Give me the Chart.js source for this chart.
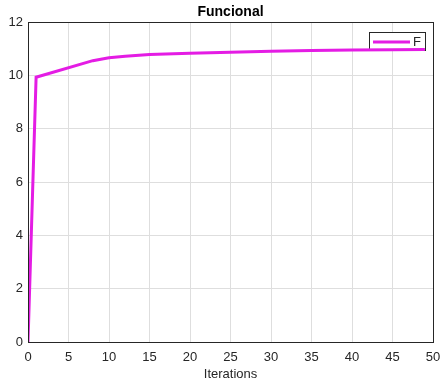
<!DOCTYPE html>
<html>
<head>
<meta charset="utf-8">
<script src="https://cdn.jsdelivr.net/npm/chart.js@4"></script>
<style>
  html, body { margin: 0; padding: 0; background: #fff; }
  #wrap { width: 442px; height: 385px; }
</style>
</head>
<body>
<div id="wrap"><canvas id="grafico" width="442" height="385"></canvas></div>
<script>
// valores
const iteracoes = [0, 1, 8, 10, 12, 15, 20, 25, 30, 35, 40, 45, 49];
const funcional = [0, 9.93, 10.55, 10.66, 10.72, 10.78, 10.83, 10.87, 10.9, 10.93, 10.95, 10.96, 10.97];
const xTicks = [0, 5, 10, 15, 20, 25, 30, 35, 40, 45, 50];
const yTicks = [0, 2, 4, 6, 8, 10, 12];
const titulo = 'Funcional';
const rotuloX = 'Iterations';
const legenda = 'F';

const cor = '#e41ce4';
const fonte = 'Arial, "Liberation Sans", Helvetica, sans-serif';

const moldura = {
  id: 'moldura',
  beforeDatasetsDraw(chart) {
    const { ctx } = chart;
    // legenda (a linha passa por cima, como na figura)
    const lx = 369, ly = 32, lw = 56, lh = 18;
    ctx.save();
    ctx.fillStyle = '#fff';
    ctx.fillRect(lx, ly, lw, lh);
    ctx.strokeStyle = '#262626';
    ctx.lineWidth = 1;
    ctx.strokeRect(lx + 0.5, ly + 0.5, lw, lh);
    ctx.strokeStyle = cor;
    ctx.lineWidth = 3;
    ctx.beginPath();
    ctx.moveTo(lx + 4, ly + 10);
    ctx.lineTo(lx + 41, ly + 10);
    ctx.stroke();
    ctx.fillStyle = '#262626';
    ctx.font = '13px ' + fonte;
    ctx.textAlign = 'left';
    ctx.textBaseline = 'middle';
    ctx.fillText(legenda, lx + 44, ly + 10);
    ctx.restore();
  },
  afterDraw(chart) {
    const { ctx, chartArea: a } = chart;
    ctx.save();
    ctx.strokeStyle = '#262626';
    ctx.lineWidth = 1;
    ctx.strokeRect(a.left + 0.5, a.top + 0.5, a.right - a.left, a.bottom - a.top);

    // titulo centrado sobre a area do grafico
    ctx.fillStyle = '#000';
    ctx.font = 'bold 14px ' + fonte;
    ctx.textAlign = 'center';
    ctx.textBaseline = 'middle';
    ctx.fillText(titulo, (a.left + a.right) / 2, 12);
    ctx.restore();
  }
};

new Chart(document.getElementById('grafico').getContext('2d'), {
  type: 'line',
  data: {
    datasets: [{
      label: legenda,
      data: iteracoes.map((x, i) => ({ x: x, y: funcional[i] })),
      borderColor: cor,
      borderWidth: 3,
      pointRadius: 0,
      tension: 0,
      fill: false
    }]
  },
  options: {
    responsive: false,
    animation: false,
    layout: { padding: { left: 0, right: 9, top: 22, bottom: 0 } },
    plugins: {
      legend: { display: false },
      tooltip: { enabled: false }
    },
    scales: {
      x: {
        type: 'linear',
        min: 0,
        max: 50,
        afterBuildTicks(axis) { axis.ticks = xTicks.map(v => ({ value: v })); },
        afterFit(axis) { axis.height = 43; axis.paddingRight = 0; axis.paddingLeft = 0; },
        ticks: { color: '#262626', font: { family: fonte, size: 13 }, padding: 8, maxRotation: 0 },
        grid: { color: '#dedede', drawTicks: false },
        border: { color: '#262626' },
        title: { display: true, text: rotuloX, color: '#262626', font: { family: fonte, size: 13 }, padding: { top: 0, bottom: 3 } }
      },
      y: {
        min: 0,
        max: 12,
        afterBuildTicks(axis) { axis.ticks = yTicks.map(v => ({ value: v })); },
        afterFit(axis) { axis.width = 28; axis.paddingTop = 0; axis.paddingBottom = 0; },
        ticks: { color: '#262626', font: { family: fonte, size: 13 }, padding: 5 },
        grid: { color: '#dedede', drawTicks: false },
        border: { color: '#262626' }
      }
    }
  },
  plugins: [moldura]
});
</script>
</body>
</html>
